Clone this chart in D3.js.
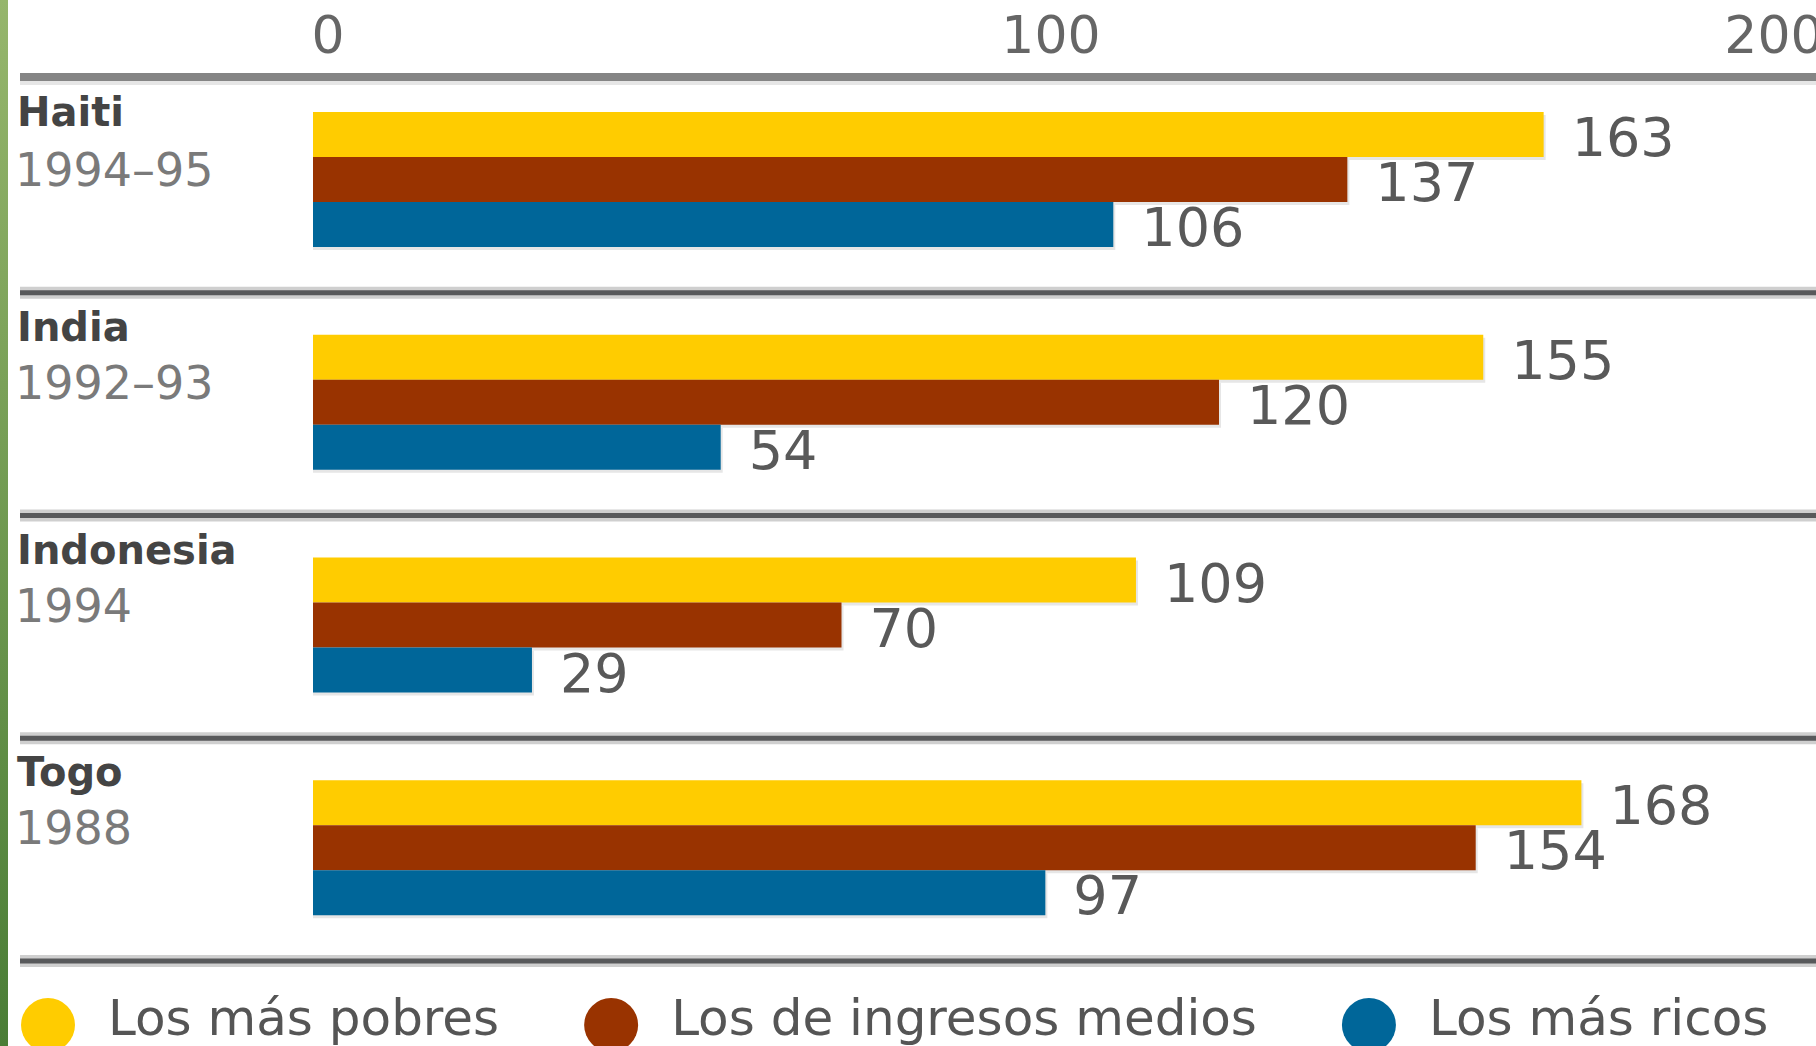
<!DOCTYPE html>
<html><head><meta charset="utf-8">
<script src="https://cdn.jsdelivr.net/npm/d3@7"></script>
<style>body{margin:0;background:#fff;overflow:hidden} svg{display:block}</style>
</head><body>
<svg id="chart" width="1816" height="1046"></svg>
<script>
// ---- data ----
const countries = ["Haiti", "India", "Indonesia", "Togo"];
const periods = ["1994–95", "1992–93", "1994", "1988"];
const seriesNames = ["Los más pobres", "Los de ingresos medios", "Los más ricos"];
const poorest = [163, 155, 109, 168];
const middle = [137, 120, 70, 154];
const richest = [106, 54, 29, 97];
const tickValues = [0, 100, 200];
const seriesColors = ["#ffcc00", "#993300", "#006699"];

// ---- layout ----
const W = 1816, H = 1046;
const svg = d3.select("#chart");
const seriesValues = [poorest, middle, richest];
const FONT = "DejaVu Sans, Verdana, sans-serif";

const x = d3.scaleLinear().domain([0, 200]).range([313, 1823]);
// printed axis labels (placed as in the original graphic)
const tickX = d3.scaleLinear().domain([0, 200]).range([328, 1774]);
const y = d3.scaleBand().domain(countries).range([70, 961]);
const yInner = d3.scaleBand().domain(seriesNames).range([0, 135]);
const color = d3.scaleOrdinal().domain(seriesNames).range(seriesColors);
const barOffset = 42;

// left green strip
const defs = svg.append("defs");
const grad = defs.append("linearGradient").attr("id", "strip").attr("x1", 0).attr("y1", 0).attr("x2", 0).attr("y2", 1);
grad.append("stop").attr("offset", "0%").attr("stop-color", "#96b66c");
grad.append("stop").attr("offset", "100%").attr("stop-color", "#4a7d36");
svg.append("rect").attr("x", 0).attr("y", 0).attr("width", 8).attr("height", H).attr("fill", "url(#strip)");

// tick labels
svg.append("g").selectAll("text").data(tickValues).join("text")
  .attr("x", d => tickX(d)).attr("y", 53)
  .attr("text-anchor", "middle")
  .attr("font-family", FONT)
  .attr("font-size", 52).attr("fill", "#666")
  .text(d => d);

// top axis line
svg.append("line").attr("x1", 20).attr("x2", W).attr("y1", 79).attr("y2", 79)
  .attr("stroke", "#e6e6e6").attr("stroke-width", 12);
svg.append("line").attr("x1", 20).attr("x2", W).attr("y1", 77).attr("y2", 77)
  .attr("stroke", "#858585").attr("stroke-width", 8);

// separators
const sepYs = countries.slice(1).map(c => y(c)).concat([y.range()[1]]);
const seps = svg.append("g");
seps.selectAll("line.halo").data(sepYs).join("line").attr("class", "halo")
  .attr("x1", 20).attr("x2", W).attr("y1", d => d).attr("y2", d => d)
  .attr("stroke", "#cfcfcf").attr("stroke-width", 12);
seps.selectAll("line.core").data(sepYs).join("line").attr("class", "core")
  .attr("x1", 20).attr("x2", W).attr("y1", d => d).attr("y2", d => d)
  .attr("stroke", "#58595b").attr("stroke-width", 5);

// rows
const rows = svg.append("g").selectAll("g").data(countries).join("g")
  .attr("transform", c => `translate(0,${y(c)})`);

rows.append("text").attr("x", 17).attr("y", (c, i) => i === 0 ? 56 : 48)
  .attr("font-family", FONT)
  .attr("font-weight", "bold").attr("font-size", 40).attr("fill", "#444")
  .text(c => c);
rows.append("text").attr("x", 15).attr("y", (c, i) => i === 0 ? 116 : 106)
  .attr("font-family", FONT)
  .attr("font-size", 46).attr("fill", "#7a7a7a")
  .text((c, i) => periods[i]);

rows.each(function (c, i) {
  const g = d3.select(this);
  const items = seriesNames.map((s, k) => ({ s, v: seriesValues[k][i] }));
  // faint shadow
  g.selectAll("rect.shadow").data(items).join("rect").attr("class", "shadow")
    .attr("x", x(0)).attr("y", d => barOffset + yInner(d.s) + 3)
    .attr("width", d => x(d.v) - x(0) + 2).attr("height", yInner.bandwidth())
    .attr("fill", "#e6e6e6");
  g.selectAll("rect.bar").data(items).join("rect").attr("class", "bar")
    .attr("x", x(0)).attr("y", d => barOffset + yInner(d.s))
    .attr("width", d => x(d.v) - x(0)).attr("height", yInner.bandwidth())
    .attr("fill", d => color(d.s));
  g.selectAll("text.val").data(items).join("text").attr("class", "val")
    .attr("x", d => x(d.v) + 28)
    .attr("y", d => barOffset + yInner(d.s) + yInner.bandwidth() / 2)
    .attr("dy", "0.4em")
    .attr("font-family", FONT)
    .attr("font-size", 54).attr("fill", "#595959")
    .text(d => d.v);
});

// legend
const legend = svg.append("g");
let cursor = 21;
seriesNames.forEach((s, k) => {
  const cx = cursor + 27;
  legend.append("circle").attr("cx", cx).attr("cy", 1025).attr("r", 27).attr("fill", color(s));
  const t = legend.append("text").attr("x", cx + 60).attr("y", 1035)
    .attr("font-family", FONT)
    .attr("font-size", 50).attr("fill", "#555")
    .text(s);
  cursor = cx + 60 + t.node().getComputedTextLength() + 112 - 27;
});
</script>
</body></html>
